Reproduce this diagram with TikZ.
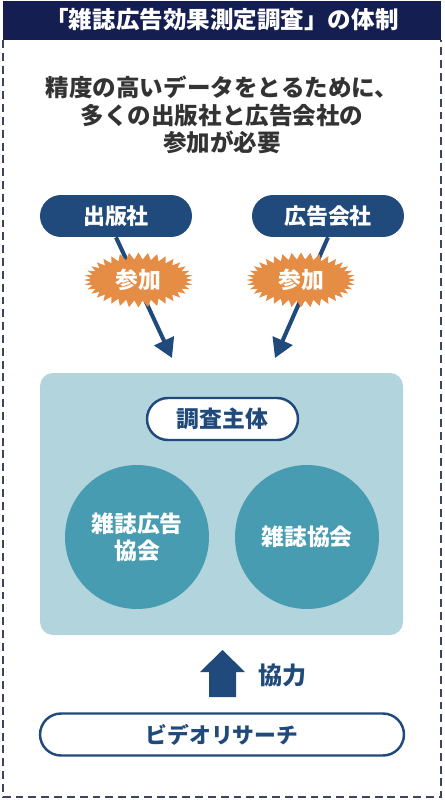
\documentclass[tikz,border=0pt]{standalone}
\usepackage{fontspec}
\setmainfont{Noto Sans CJK JP}
\usetikzlibrary{arrows.meta,shapes.symbols}
\definecolor{barnavy}{HTML}{141E50}
\definecolor{pillblue}{HTML}{1F4A7B}
\definecolor{burstorange}{HTML}{E58C45}
\definecolor{panelblue}{HTML}{B2D4DD}
\definecolor{circleblue}{HTML}{479CB1}
\definecolor{framegray}{HTML}{3B4463}
\definecolor{headgray}{HTML}{333333}
\begin{document}
\begin{tikzpicture}[x=0.02cm, y=-0.02cm, every node/.style={align=center, font=\bfseries},
  pill/.style={rectangle, rounded corners=0.42cm, minimum width=3.04cm, minimum height=0.84cm, fill=pillblue, text=white, font=\fontsize{12.5}{15}\selectfont\bfseries},
  outpill/.style={rectangle, rounded corners=0.42cm, minimum height=0.84cm, fill=white, draw=pillblue, line width=1.4pt, text=pillblue},
  burst/.style={starburst, starburst points=36, starburst point height=0.14cm, random starburst=0, fill=burstorange, text=white, minimum width=2.18cm, minimum height=1.1cm, inner sep=0pt, font=\fontsize{13}{15}\selectfont\bfseries},
  member/.style={circle, fill=circleblue, minimum size=2.88cm, text=white, font=\fontsize{13}{15.3}\selectfont\bfseries},
  joinarrow/.style={draw=pillblue, line width=2.3pt, -{Triangle[length=0.38cm, width=0.42cm]}}]
\useasboundingbox (0,0) rectangle (444,800);
\fill[barnavy] (3,1) rectangle (441,40);
\draw[framegray, line width=0.85pt, dash pattern=on 4.5pt off 2.8pt] (3,40) -- (3,797) -- (441,797) -- (441,40);
\node[text=white, font=\fontsize{13.4}{16}\selectfont\bfseries] (title) at (222,20) {「雑誌広告効果測定調査」の体制};
\node[text=headgray, font=\fontsize{13.4}{15.6}\selectfont\bfseries] (lead) at (222,115) {精度の高いデータをとるために、\\多くの出版社と広告会社の\\参加が必要};

\node[pill] (pub) at (116,216) {出版社};
\node[pill] (agency) at (328,216) {広告会社};
\coordinate (tipA) at (172,358);
\coordinate (tipB) at (275,358);
\draw[joinarrow] (pub.south) -- (tipA);
\draw[joinarrow] (agency.south) -- (tipB);
\node[burst] (joinA) at (138.5,280) {参加};
\node[burst] (joinB) at (301,280) {参加};

\fill[panelblue, rounded corners=0.26cm] (40,373) rectangle (403,635);
\node[outpill, minimum width=3.02cm, font=\fontsize{13}{15}\selectfont\bfseries] (sponsor) at (222.5,419) {調査主体};
\node[member] (jmpa) at (137,537) {雑誌広告\\協会};
\node[member] (jma) at (307,537) {雑誌協会};

\fill[pillblue] (209,697) -- (209,672) -- (200,672) -- (222.5,650) -- (245,672) -- (236,672) -- (236,697) -- cycle;
\node[text=pillblue, font=\fontsize{13.7}{16}\selectfont\bfseries, anchor=west] (coop) at (252,675) {協力};
\node[outpill, minimum width=7.28cm, font=\fontsize{12.4}{15}\selectfont\bfseries] (vr) at (222,734.5) {ビデオリサーチ};
\end{tikzpicture}
\end{document}
